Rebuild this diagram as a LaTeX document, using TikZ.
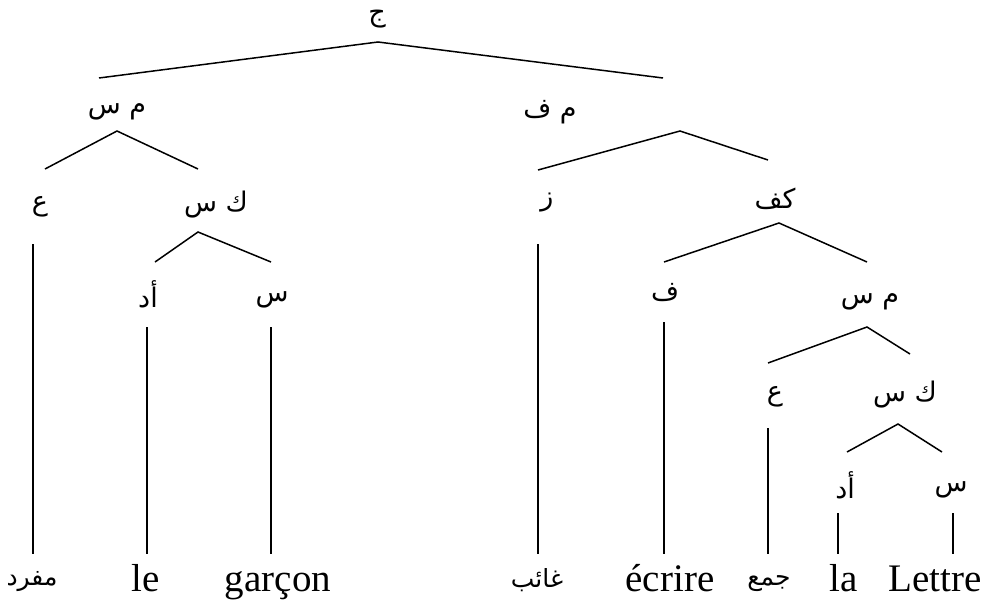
\documentclass[tikz,border=0pt]{standalone}
\usepackage{fontspec}
\setmainfont{Liberation Serif}
\newfontfamily\arfont[Script=Arabic]{DejaVu Sans}
\TeXXeTstate=1
\begin{document}
\begin{tikzpicture}[x=1pt,y=-1pt,
  lab/.style={inner sep=0pt,font=\arfont\fontsize{27}{30}\selectfont},
  arw/.style={inner sep=0pt,font=\arfont\fontsize{25}{28}\selectfont},
  lat/.style={inner sep=0pt,anchor=base,font=\fontsize{39}{44}\selectfont},
  br/.style={line width=1.5pt}]
\useasboundingbox (0,0) rectangle (992,605);
% labels
\node[lab] (j) at (377,19) {\beginR ج\endR};
\node[lab] (msL) at (117,112) {\beginR م س\endR};
\node[lab] (aL) at (40,207) {\beginR ع\endR};
\node[lab] (ksL) at (216,205) {\beginR ك س\endR};
\node[lab] (adL) at (148,294) {\beginR أد\endR};
\node[lab] (sL) at (272,300) {\beginR س\endR};
\node[lab] (mf) at (550,112) {\beginR م ف\endR};
\node[lab] (z) at (547,203) {\beginR ز\endR};
\node[lab] (kf) at (775,199) {\beginR كف\endR};
\node[lab] (f) at (665,293) {\beginR ف\endR};
\node[lab] (msR) at (870,302) {\beginR م س\endR};
\node[lab] (aR) at (775,397) {\beginR ع\endR};
\node[lab] (ksR) at (905,395) {\beginR ك س\endR};
\node[lab] (adR) at (845,485) {\beginR أد\endR};
\node[lab] (sR) at (951,490) {\beginR س\endR};
% words
\node[arw] (w1) at (32,582) {\beginR مفرد\endR};
\node[lat] (w2) at (146,591) {le};
\node[lat] (w3) at (278,591) {garçon};
\node[arw] (w4) at (537,580) {\beginR غائب\endR};
\node[lat] (w5) at (670,591) {écrire};
\node[arw] (w6) at (769,584) {\beginR جمع\endR};
\node[lat] (w7) at (844,591) {la};
\node[lat] (w8) at (935,591) {Lettre};
% connector points
\coordinate (j-b) at (378,42);
\coordinate (msL-t) at (99,78);
\coordinate (mf-t) at (663,78);
\coordinate (msL-b) at (117,131);
\coordinate (aL-t) at (45,169);
\coordinate (ksL-t) at (198,169);
\coordinate (ksL-b) at (198,232);
\coordinate (adL-t) at (155,262);
\coordinate (sL-t) at (271,262);
\coordinate (aL-b) at (33,244);
\coordinate (w1-t) at (33,554);
\coordinate (adL-b) at (147,327);
\coordinate (w2-t) at (147,554);
\coordinate (sL-b) at (271,327);
\coordinate (w3-t) at (271,554);
\coordinate (mf-b) at (680,131);
\coordinate (z-t) at (538,170);
\coordinate (kf-t) at (768,160);
\coordinate (z-b) at (538,244);
\coordinate (w4-t) at (538,554);
\coordinate (kf-b) at (779,223);
\coordinate (f-t) at (664,262);
\coordinate (msR-t) at (867,262);
\coordinate (f-b) at (664,322);
\coordinate (w5-t) at (664,554);
\coordinate (msR-b) at (867,327);
\coordinate (aR-t) at (768,363);
\coordinate (ksR-t) at (910,354);
\coordinate (aR-b) at (768,428);
\coordinate (w6-t) at (768,554);
\coordinate (ksR-b) at (898,424);
\coordinate (adR-t) at (847,452);
\coordinate (sR-t) at (942,452);
\coordinate (adR-b) at (838,513);
\coordinate (w7-t) at (838,554);
\coordinate (sR-b) at (953,513);
\coordinate (w8-t) at (953,554);
% connectors
\draw[br] (msL-t) -- (j-b) -- (mf-t);
\draw[br] (aL-t) -- (msL-b) -- (ksL-t);
\draw[br] (adL-t) -- (ksL-b) -- (sL-t);
\draw[br] (aL-b) -- (w1-t);
\draw[br] (adL-b) -- (w2-t);
\draw[br] (sL-b) -- (w3-t);
\draw[br] (z-t) -- (mf-b) -- (kf-t);
\draw[br] (z-b) -- (w4-t);
\draw[br] (f-t) -- (kf-b) -- (msR-t);
\draw[br] (f-b) -- (w5-t);
\draw[br] (aR-t) -- (msR-b) -- (ksR-t);
\draw[br] (aR-b) -- (w6-t);
\draw[br] (adR-t) -- (ksR-b) -- (sR-t);
\draw[br] (adR-b) -- (w7-t);
\draw[br] (sR-b) -- (w8-t);
\end{tikzpicture}
\end{document}
